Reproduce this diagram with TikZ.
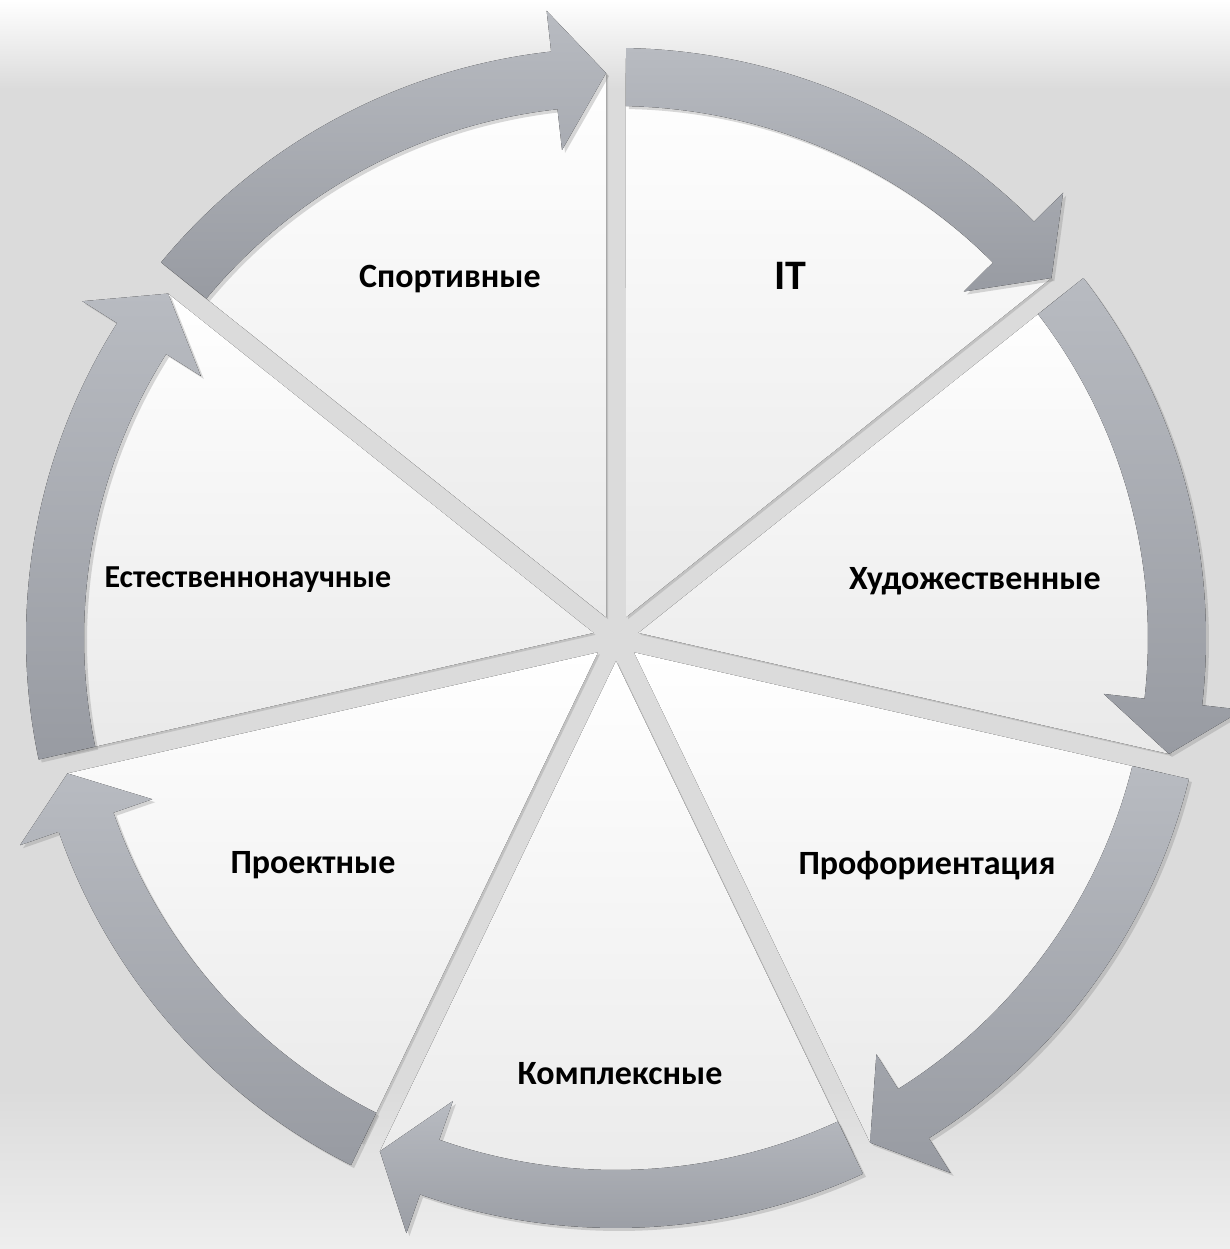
\documentclass[tikz,border=0pt]{standalone}
\usepackage{fontspec}
\setmainfont{Carlito}
\usetikzlibrary{shadows}
\definecolor{arrowtop}{RGB}{184,187,193}
\definecolor{arrowbot}{RGB}{152,155,162}
\definecolor{piebot}{RGB}{233,233,233}
\definecolor{bgbase}{RGB}{219,219,219}
\definecolor{bglight}{RGB}{238,238,238}
\begin{document}
\begin{tikzpicture}[x=1pt,y=1pt,
  pie/.style={top color=white,bottom color=piebot,draw=none,
    drop shadow={shadow xshift=2pt,shadow yshift=-2pt,opacity=0.28}},
  cyclearrow/.style={top color=arrowtop,bottom color=arrowbot,draw=none,
    drop shadow={shadow xshift=3pt,shadow yshift=-3pt,opacity=0.3}},
  lab/.style={font=\bfseries\fontsize{34}{40}\selectfont,anchor=base,inner sep=0pt,text=black}]
\useasboundingbox (0,0) rectangle (1230,1249);
% background (faded photo approximated)
\fill[bgbase] (0,0) rectangle (1230,1249);
\shade[top color=white,bottom color=bgbase] (0,1249) rectangle (1230,1160);
\shade[top color=bgbase,bottom color=bglight] (0,160) rectangle (1230,0);
% pie sectors
\begin{scope}[shift={(616,611)}]
\foreach \k in {0,...,6}{
  \pgfmathsetmacro\angA{90-\k*360/7}
  \pgfmathsetmacro\angB{\angA-360/7}
  \pgfmathsetmacro\angM{\angA-180/7}
  \pgfmathsetmacro\dA{asin(10/565)}
  \fill[pie] (\angM:23.05pt) -- (\angA-\dA:565pt)
     arc[start angle=\angA-\dA, end angle=\angB+\dA, radius=565pt] -- cycle;
}
% circular arrows
\foreach \k in {0,...,6}{
  \pgfmathsetmacro\angA{90-\k*360/7}
  \pgfmathsetmacro\angB{\angA-360/7}
  \pgfmathsetmacro\tailo{\angA-asin(10/590)}
  \pgfmathsetmacro\taili{\angA-asin(10/532)}
  \pgfmathsetmacro\tipa{\angB+asin(10/565)}
  \pgfmathsetmacro\backa{\tipa+5.3}
  \fill[cyclearrow] (\tailo:590pt)
     arc[start angle=\tailo, end angle=\backa, radius=590pt]
     -- (\backa:631pt) -- (\tipa:565pt) -- (\backa:491pt) -- (\backa:532pt)
     arc[start angle=\backa, end angle=\taili, radius=532pt] -- cycle;
}
\end{scope}
% labels
\node[lab,font=\bfseries\fontsize{42}{48}\selectfont] (it) at (790,959) {IT};
\node[lab] (art) at (975,659) {Художественные};
\node[lab] (prof) at (927,374) {Профориентация};
\node[lab] (kompl) at (620,164) {Комплексные};
\node[lab] (proj) at (313,375.5) {Проектные};
\node[lab,font=\bfseries\fontsize{32}{38}\selectfont] (nat) at (248,661) {Естественнонаучные};
\node[lab] (sport) at (450,961) {Спортивные};
\end{tikzpicture}
\end{document}
